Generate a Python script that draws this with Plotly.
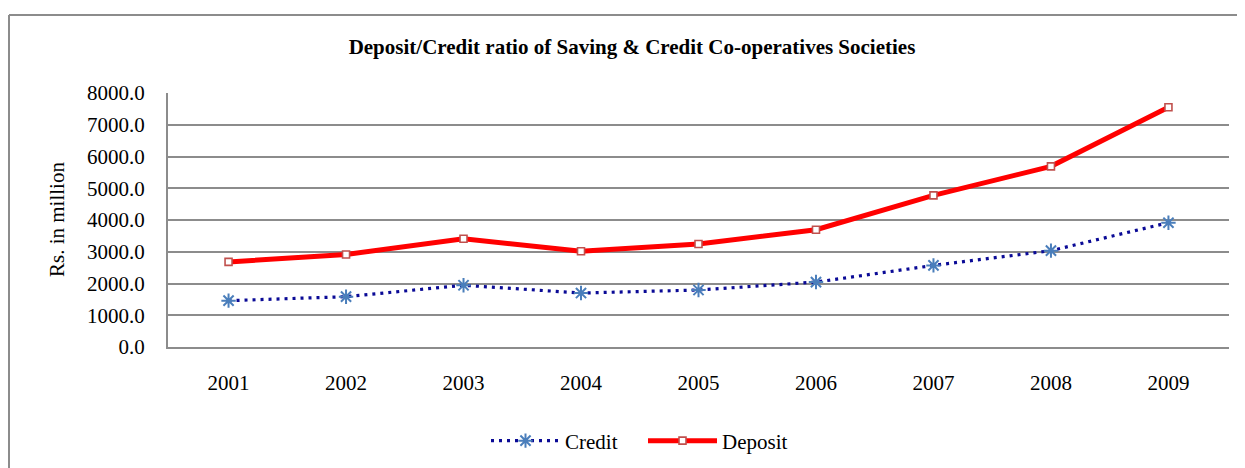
import plotly.graph_objects as go

years = ["2001", "2002", "2003", "2004", "2005", "2006", "2007", "2008", "2009"]
credit = [1460, 1585, 1945, 1700, 1795, 2045, 2570, 3035, 3915]
deposit = [2680, 2915, 3410, 3015, 3245, 3695, 4775, 5690, 7550]
y_ticks = [0, 1000, 2000, 3000, 4000, 5000, 6000, 7000, 8000]

# The page body has an 8px margin, so the figure is sized to the visible area
W, H = 1237, 460
L, R, T, B = 160, 16, 85, 121
PW, PH = W - L - R, H - T - B
FONT = "Liberation Serif"
FS = 21
GRID = "#8c8c8c"

fig = go.Figure()
fig.add_trace(go.Scatter(
    x=years, y=credit, name="Credit", mode="lines+markers",
    line=dict(color="#0a0a96", width=3.2, dash="3px,5px"),
    marker=dict(symbol="asterisk", size=12, color="#4a7ebb",
                line=dict(color="#4a7ebb", width=2)),
))
fig.add_trace(go.Scatter(
    x=years, y=deposit, name="Deposit", mode="lines+markers",
    line=dict(color="#ff0000", width=5),
    marker=dict(symbol="square", size=7, color="#ffffff",
                line=dict(color="#c0504d", width=1.6)),
))

fig.update_layout(
    width=W, height=H,
    margin=dict(l=L, r=R, t=T, b=B, autoexpand=False),
    paper_bgcolor="white", plot_bgcolor="white",
    font=dict(family=FONT, size=FS, color="black"),
    title=dict(text="<b>Deposit/Credit ratio of Saving &amp; Credit Co-operatives Societies</b>",
               x=624 / W, xanchor="center", xref="container",
               y=1 - 39 / H, yanchor="middle", yref="container",
               font=dict(family=FONT, size=FS, color="black")),
    showlegend=True,
    legend=dict(orientation="h", x=(635 - L) / PW, xanchor="center",
                y=(339 - 433) / PH, yanchor="middle",
                font=dict(family=FONT, size=FS), itemwidth=69,
                entrywidth=73, entrywidthmode="pixels",
                bgcolor="rgba(0,0,0,0)"),
    xaxis=dict(type="category", categoryorder="array", categoryarray=years,
               showgrid=False, showline=True, linecolor=GRID, linewidth=2,
               ticks="", ticklabelstandoff=16, automargin=False,
               tickfont=dict(family=FONT, size=FS)),
    yaxis=dict(range=[0, 8000], tickvals=y_ticks, tickformat=".1f",
               showgrid=True, gridcolor=GRID, gridwidth=2,
               showline=True, linecolor=GRID, linewidth=2, zeroline=False,
               ticks="", ticklabelstandoff=17, automargin=False,
               tickfont=dict(family=FONT, size=FS)),
    annotations=[dict(text="Rs. in million", textangle=-90,
                      xref="paper", yref="paper", x=-(L - 49) / PW, y=0.5,
                      xanchor="center", yanchor="middle", showarrow=False,
                      font=dict(family=FONT, size=FS, color="black"))],
    shapes=[
        dict(type="line", xref="paper", yref="paper",
             x0=-(L - 1) / PW, x1=-(L - 1) / PW,
             y0=1 + (T - 7) / PH, y1=-(B + 20) / PH,
             line=dict(color=GRID, width=2)),
        dict(type="line", xref="paper", yref="paper",
             x0=-(L - 1) / PW, x1=1 + (R + 20) / PW,
             y0=1 + (T - 7) / PH, y1=1 + (T - 7) / PH,
             line=dict(color=GRID, width=2)),
    ],
)

fig.write_html("out.html")
